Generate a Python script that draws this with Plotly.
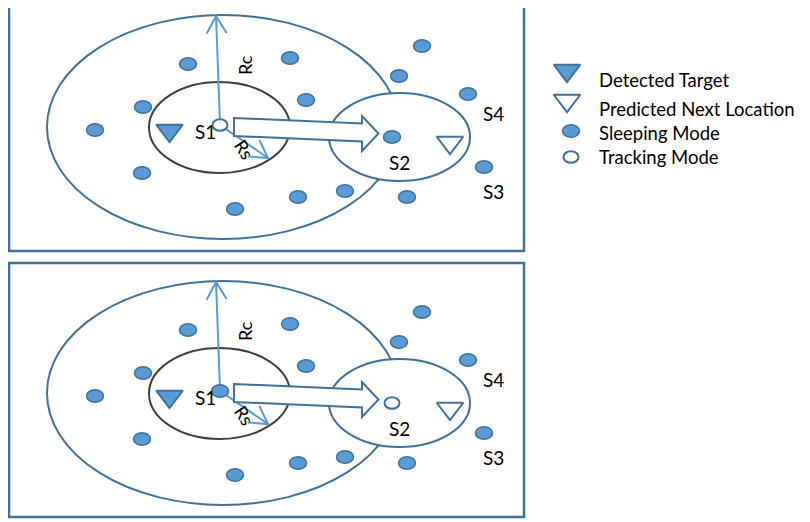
import math
import plotly.graph_objects as go

W, H = 810, 522
PAGE_MARGIN = 8  # the browser's default body margin offsets the figure

# ---- data (pixel-space diagram coordinates of the top panel) ----
panel_offsets = [0, 266]
sleep_x = [422, 188, 290, 399, 468, 143, 306, 95, 484, 142, 345, 298, 407, 235]
sleep_y = [46, 64, 58, 76, 94, 107, 100, 130, 167, 173, 191, 197, 197, 209]
s1_pos = (220, 125)
s2_pos = (392, 137)
s1_mode = ["tracking", "sleeping"]
s2_mode = ["sleeping", "tracking"]
target_pos = (169.5, 130.5)
predicted_pos = (450, 142.5)
labels = ["S1", "S2", "S3", "S4"]
label_x = [205, 399, 493, 493]
label_y = [131, 162, 191, 113]
legend_names = ["Detected Target", "Predicted Next Location", "Sleeping Mode", "Tracking Mode"]
legend_text_y = [80, 109, 133, 157]

# ---- styles ----
DARK = "#41719c"
LIGHT = "#5b9bd5"
GRAY = "#404040"
FONT = "Lato"

shapes = []
annotations = []


def ellipse(cx, cy, rx, ry, color, width, fill="rgba(0,0,0,0)"):
    shapes.append(dict(type="circle", xref="x", yref="y", layer="below",
                       x0=cx - rx, x1=cx + rx, y0=cy - ry, y1=cy + ry,
                       line=dict(color=color, width=width), fillcolor=fill))


def node(cx, cy, mode):
    if mode == "sleeping":
        ellipse(cx, cy, 8.5, 6.2, DARK, 1.5, LIGHT)
    else:
        ellipse(cx, cy, 7.5, 5.8, DARK, 2, "white")


def line_arrow(x0, y0, x1, y1):
    ang = math.atan2(y0 - y1, x0 - x1)
    L, a = 20, math.radians(30)
    hx1 = x1 + L * math.cos(ang + a)
    hy1 = y1 + L * math.sin(ang + a)
    hx2 = x1 + L * math.cos(ang - a)
    hy2 = y1 + L * math.sin(ang - a)
    path = (f"M{x0},{y0} L{x1},{y1} M{hx1},{hy1} L{x1},{y1} L{hx2},{hy2}")
    shapes.append(dict(type="path", xref="x", yref="y", layer="below", path=path,
                       line=dict(color=LIGHT, width=2)))


tri_x, tri_y, tri_fill = [], [], []
for k, dy in enumerate(panel_offsets):
    # frame
    shapes.append(dict(type="rect", xref="x", yref="y", layer="below",
                       x0=9, x1=524, y0=-3 + dy, y1=251 + dy,
                       line=dict(color=DARK, width=2.5), fillcolor="white"))
    # communication range
    ellipse(223, 127 + dy, 176, 112, DARK, 2)
    # S2 region
    ellipse(399.5, 137 + dy, 70.5, 44, DARK, 2, "white")
    # sensing range
    ellipse(219.5, 127.5 + dy, 70.5, 45.5, GRAY, 2)
    for x, y in zip(sleep_x, sleep_y):
        node(x, y + dy, "sleeping")
    node(s2_pos[0], s2_pos[1] + dy, s2_mode[k])
    # Rc / Rs arrows
    line_arrow(220, 124 + dy, 216, 16 + dy)
    line_arrow(220, 125 + dy, 268, 158 + dy)
    # block arrow
    pts = [(234, 118), (362, 123.5), (362, 116), (378.5, 133.5), (362, 151),
           (362, 141.5), (234, 136)]
    path = "M" + " L".join(f"{x},{y + dy}" for x, y in pts) + " Z"
    shapes.append(dict(type="path", xref="x", yref="y", layer="below", path=path,
                       line=dict(color=DARK, width=2), fillcolor="white"))
    node(s1_pos[0], s1_pos[1] + dy, s1_mode[k])
    # triangles
    tri_x += [target_pos[0], predicted_pos[0]]
    tri_y += [target_pos[1] + dy, predicted_pos[1] + dy]
    tri_fill += [LIGHT, "white"]
    # labels
    for t, x, y in zip(labels, label_x, label_y):
        annotations.append(dict(x=x, y=y + dy, text=t, showarrow=False,
                                xanchor="center", yanchor="middle",
                                font=dict(family=FONT, size=19, color="black")))
    annotations.append(dict(x=245, y=65 + dy, text="Rc", textangle=-90, showarrow=False,
                            xanchor="center", yanchor="middle",
                            font=dict(family=FONT, size=18, color="black")))
    annotations.append(dict(x=244, y=149 + dy, text="Rs", textangle=57, showarrow=False,
                            xanchor="center", yanchor="middle",
                            font=dict(family=FONT, size=18, color="black")))

# legend
tri_x += [567, 567]
tri_y += [70.5, 100.5]
tri_fill += [LIGHT, "white"]
node(571, 131, "sleeping")
node(571, 157, "tracking")
for name, y in zip(legend_names, legend_text_y):
    annotations.append(dict(x=597, y=y, text=name, showarrow=False,
                            xanchor="left", yanchor="middle",
                            font=dict(family=FONT, size=18.5, color="black")))

fig = go.Figure()
fig.add_trace(go.Scatter(x=tri_x, y=tri_y, mode="markers", hoverinfo="skip",
                         marker=dict(symbol="triangle-down", size=23, color=tri_fill,
                                     line=dict(color=DARK, width=2))))
fig.update_layout(width=W - PAGE_MARGIN, height=H - PAGE_MARGIN,
                  margin=dict(l=0, r=0, t=0, b=0),
                  paper_bgcolor="white", plot_bgcolor="white", showlegend=False,
                  shapes=shapes, annotations=annotations,
                  xaxis=dict(range=[PAGE_MARGIN, W], visible=False, fixedrange=True),
                  yaxis=dict(range=[H, PAGE_MARGIN], visible=False, fixedrange=True))
fig.write_html("out.html")
